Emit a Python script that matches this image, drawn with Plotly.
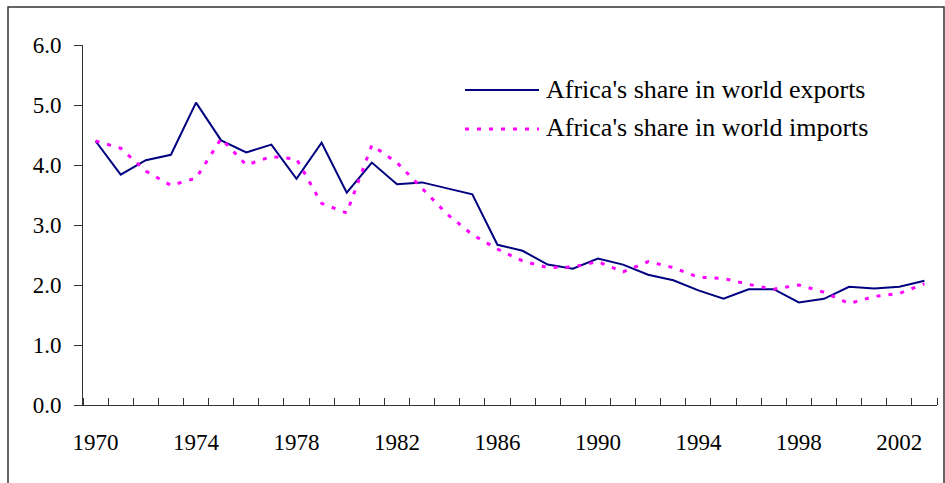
import plotly.graph_objects as go

years = list(range(1970, 2004))
exports = [4.40, 3.84, 4.08, 4.17, 5.04, 4.41, 4.21, 4.34, 3.77, 4.37,
           3.54, 4.04, 3.68, 3.71, 3.61, 3.51, 2.67, 2.57, 2.34, 2.27,
           2.44, 2.34, 2.17, 2.08, 1.91, 1.77, 1.93, 1.93, 1.71, 1.77,
           1.97, 1.94, 1.97, 2.07]
imports = [4.40, 4.28, 3.90, 3.66, 3.78, 4.44, 4.00, 4.14, 4.10, 3.36,
           3.20, 4.33, 4.04, 3.61, 3.18, 2.84, 2.60, 2.40, 2.29, 2.30,
           2.39, 2.22, 2.39, 2.29, 2.13, 2.11, 2.01, 1.93, 2.00, 1.88,
           1.69, 1.81, 1.86, 2.02]
label_years = [1970, 1974, 1978, 1982, 1986, 1990, 1994, 1998, 2002]
label_text = [str(y) for y in label_years]
y_ticks = [0, 1, 2, 3, 4, 5, 6]
series_names = ["Africa's share in world exports", "Africa's share in world imports"]

W, H = 945, 483
L, R, T, B = 83, 8, 45, 78
PW, PH = W - L - R, H - T - B

def px(x):
    return (x - L) / PW

def py(y):
    return (H - B - y) / PH

FONT = "Liberation Serif, Times New Roman, serif"
NAVY = "#000080"
MAG = "#FF00FF"
AX = "#333333"

fig = go.Figure()
fig.add_trace(go.Scatter(x=years, y=exports, mode="lines", name=series_names[0],
                         line=dict(color=NAVY, width=2), showlegend=False))
fig.add_trace(go.Scatter(x=years, y=imports, mode="lines", name=series_names[1],
                         line=dict(color=MAG, width=3, dash="4px,8px"), showlegend=False))

# legend drawn manually to match long sample lines
leg_rows = [(90, NAVY, 2, "solid"), (129, MAG, 3, "4px,8px")]
for (yy, col, w, d), name in zip(leg_rows, series_names):
    fig.add_shape(type="line", xref="paper", yref="paper",
                  x0=px(465), x1=px(539), y0=py(yy), y1=py(yy),
                  line=dict(color=col, width=w, dash=d))
    fig.add_annotation(xref="paper", yref="paper", x=px(544), y=py(yy - 1),
                       xanchor="left", yanchor="middle", text=name, showarrow=False,
                       font=dict(family=FONT, size=26, color="black"))

# outer chart border
fig.add_shape(type="rect", xref="paper", yref="paper",
              x0=px(8), x1=px(944), y0=py(495), y1=py(7),
              line=dict(color=AX, width=1.5), fillcolor="rgba(0,0,0,0)", layer="below")

fig.update_layout(
    width=W, height=H,
    margin=dict(l=L, r=R, t=T, b=B, pad=0),
    paper_bgcolor="white", plot_bgcolor="white",
    font=dict(family=FONT, size=23, color="black"),
    showlegend=False,
)
fig.update_xaxes(
    range=[1969.5, 2003.5], showgrid=False, zeroline=False,
    showline=True, linecolor=AX, linewidth=1,
    tickmode="array", tickvals=label_years, ticktext=label_text,
    ticks="", ticklabelstandoff=16,
    tickfont=dict(family=FONT, size=23, color="black"),
    minor=dict(tick0=1969.5, dtick=1, ticks="inside", ticklen=7,
               tickcolor=AX, tickwidth=1, showgrid=False),
)
fig.update_yaxes(
    range=[0, 6], showgrid=False, zeroline=False,
    showline=True, linecolor=AX, linewidth=1,
    tickmode="array", tickvals=y_ticks, tickformat=".1f",
    ticks="outside", ticklen=8, tickcolor=AX, tickwidth=1,
    ticklabelstandoff=8,
    tickfont=dict(family=FONT, size=23, color="black"),
)

fig.write_html("out.html",
               config={"displayModeBar": False},
               post_script="document.body.style.margin='0';document.body.style.overflow='hidden';")
